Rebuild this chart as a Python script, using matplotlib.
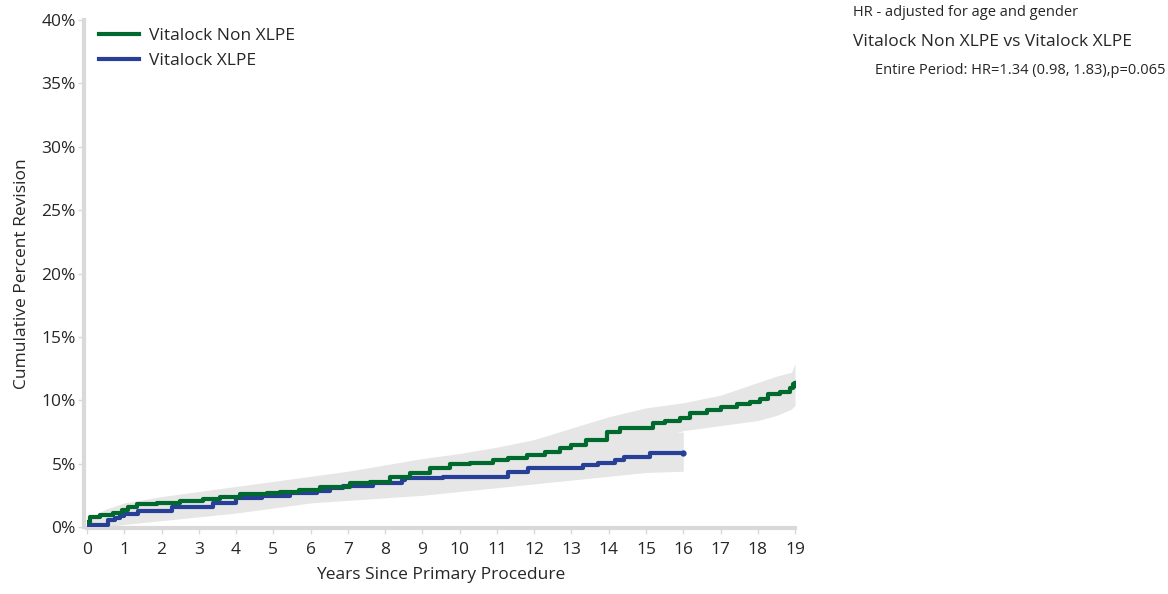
import numpy as np
import matplotlib
matplotlib.use("Agg")
import matplotlib.pyplot as plt

# Kaplan-Meier style cumulative revision
#####################
nonxlpe_t = [0, 0.08, 0.35, 0.7, 0.93, 1.1, 1.33, 1.87, 2.5, 3.1, 3.57, 4.1, 4.83, 5.18, 5.7,
             6.25, 7.06, 7.6, 8.13, 8.67, 9.2, 9.74, 10.28, 10.9, 11.3, 11.8, 12.3, 12.7, 13.0,
             13.4, 13.96, 14.3, 14.84, 15.2, 15.5, 15.9, 16.18, 16.64, 17.0, 17.45, 17.8, 18.06,
             18.28, 18.6, 18.87, 18.95, 19.0]
nonxlpe_pct = [0.42, 0.76, 0.95, 1.13, 1.34, 1.6, 1.79, 1.92, 2.07, 2.2, 2.39, 2.58, 2.71, 2.79, 2.95,
               3.18, 3.44, 3.57, 3.97, 4.23, 4.63, 4.94, 5.02, 5.28, 5.45, 5.68, 5.9, 6.2, 6.5,
               6.86, 7.52, 7.78, 7.83, 8.18, 8.35, 8.57, 9.0, 9.23, 9.49, 9.7, 9.88, 10.07,
               10.46, 10.67, 10.94, 11.25, 11.25]

xlpe_t = [0, 0.56, 0.75, 0.89, 1.0, 1.37, 2.28, 3.38, 4.0, 4.7, 5.45, 6.17, 6.52, 6.87, 7.68,
          8.45, 8.53, 9.56, 11.3, 11.84, 13.3, 13.7, 14.17, 14.4, 15.1, 16.0]
xlpe_pct = [0.16, 0.55, 0.7, 0.87, 1.0, 1.29, 1.6, 1.87, 2.26, 2.47, 2.7, 2.84, 3.05, 3.23, 3.44,
            3.7, 3.84, 3.97, 4.36, 4.63, 4.89, 5.02, 5.28, 5.49, 5.81, 5.81]

# 95% confidence bands
nonxlpe_ci_t = [0, 0.5, 1, 2, 3, 4, 5, 6, 7, 8, 9, 10, 11, 12, 13, 14, 15, 16, 17, 18, 18.5, 18.9, 19]
nonxlpe_lo = [0.1, 0.5, 0.9, 1.3, 1.6, 1.9, 2.1, 2.4, 2.6, 3.0, 3.5, 4.0, 4.4, 4.9, 5.4, 6.3, 6.8, 7.6, 8.0, 8.4, 8.8, 9.3, 9.6]
nonxlpe_hi = [0.6, 1.4, 1.9, 2.4, 2.8, 3.2, 3.6, 4.0, 4.4, 4.9, 5.4, 5.8, 6.3, 6.9, 7.8, 8.7, 9.4, 9.8, 10.4, 11.4, 11.9, 12.2, 12.9]

xlpe_ci_t = [0, 0.5, 1, 2, 3, 4, 5, 6, 7, 8, 9, 10, 11, 12, 13, 14, 15, 16]
xlpe_lo = [0.0, 0.0, 0.2, 0.5, 0.8, 1.1, 1.5, 1.9, 2.1, 2.3, 2.5, 2.8, 3.1, 3.4, 3.7, 4.0, 4.3, 4.4]
xlpe_hi = [0.4, 0.9, 1.5, 2.0, 2.6, 3.0, 3.4, 3.8, 4.2, 4.6, 5.0, 5.2, 5.7, 6.0, 6.4, 6.8, 7.3, 7.5]

x_ticks = list(range(0, 20))
y_ticks = [0, 5, 10, 15, 20, 25, 30, 35, 40]

green = '#006a2e'
blue = '#283f97'
band = '#e6e6e6'
axis_grey = '#d9d9d9'
txt = '#262626'

plt.rcParams['font.family'] = ['Open Sans', 'DejaVu Sans']

fig = plt.figure(figsize=(11.68, 5.94), dpi=100)
ax = fig.add_axes([0.0745, 0.1128, 0.6062, 0.8535])

ax.fill_between(nonxlpe_ci_t, nonxlpe_lo, nonxlpe_hi, color=band, lw=0, zorder=1)
ax.fill_between(xlpe_ci_t, xlpe_lo, xlpe_hi, color=band, lw=0, zorder=1)

ax.step(nonxlpe_t, nonxlpe_pct, where='post', color=green, lw=3, zorder=4, label='Vitalock Non XLPE')
ax.step(xlpe_t, xlpe_pct, where='post', color=blue, lw=3, zorder=3, label='Vitalock XLPE')
ax.plot(nonxlpe_t[-1], nonxlpe_pct[-1], 'o', color=green, ms=4.5, zorder=5)
ax.plot(xlpe_t[-1], xlpe_pct[-1], 'o', color=blue, ms=3.5, zorder=5)

ax.set_xlim(0, 19)
ax.set_ylim(0, 40)
ax.set_xticks(x_ticks)
ax.set_xticklabels([str(t) for t in x_ticks])
ax.set_yticks(y_ticks)
ax.set_yticklabels([str(v) + '%' for v in y_ticks])

for s in ['top', 'right']:
    ax.spines[s].set_visible(False)
for s in ['left', 'bottom']:
    ax.spines[s].set_color(axis_grey)
    ax.spines[s].set_linewidth(3)
ax.spines['bottom'].set_position(('outward', 1))
ax.spines['left'].set_position(('outward', 2))
ax.tick_params(axis='both', colors=axis_grey, labelcolor=txt, labelsize=12.5, length=4, width=1)
ax.tick_params(axis='x', pad=6)
ax.tick_params(axis='y', pad=2)

ax.set_xlabel('Years Since Primary Procedure', fontsize=12.5, color=txt, labelpad=6)
ax.set_ylabel('Cumulative Percent Revision', fontsize=12.5, color=txt, labelpad=8)

leg = ax.legend(loc='upper left', bbox_to_anchor=(-0.002, 1.012), frameon=False, fontsize=12.5,
                handlelength=2.3, handletextpad=0.55, labelspacing=0.5, borderaxespad=0.4)
for t in leg.get_texts():
    t.set_color(txt)

fig.text(853 / 1168, 1 - 13 / 594, 'HR - adjusted for age and gender', fontsize=10.5, color=txt, va='center')
fig.text(853 / 1168, 1 - 42 / 594, 'Vitalock Non XLPE vs Vitalock XLPE', fontsize=12.5, color=txt, va='center')
fig.text(875 / 1168, 1 - 71 / 594, 'Entire Period: HR=1.34 (0.98, 1.83),p=0.065', fontsize=10.5, color=txt, va='center')

fig.savefig('out.png', dpi=100)
